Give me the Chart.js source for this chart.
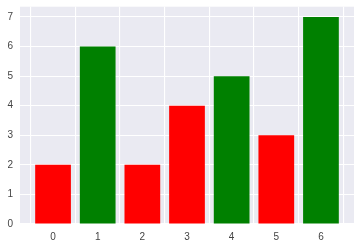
<!DOCTYPE html>
<html><head><meta charset="utf-8">
<script src="https://cdn.jsdelivr.net/npm/chart.js@4"></script>
<style>html,body{margin:0;padding:0;background:#fff}#w{width:361px;height:248px}</style>
</head><body><div id="w"><canvas id="c" width="361" height="248"></canvas></div>
<script>
const categories = [0, 1, 2, 3, 4, 5, 6];
const values = [2, 6, 2, 4, 5, 3, 7];
const barColors = ['red', 'green', 'red', 'red', 'green', 'red', 'green'];
const yTicks = [0, 1, 2, 3, 4, 5, 6, 7];

const bg = {
  id: 'bg',
  beforeDraw(chart) {
    const {ctx, chartArea: a} = chart;
    ctx.save();
    ctx.fillStyle = '#EAEAF2';
    ctx.fillRect(a.left, a.top, a.right - a.left, a.bottom - a.top);
    ctx.restore();
  }
};

new Chart(document.getElementById('c'), {
  type: 'bar',
  data: {
    datasets: [{
      data: categories.map((c, i) => ({x: c, y: values[i]})),
      backgroundColor: barColors,
      borderWidth: 0,
      barPercentage: 0.8,
      categoryPercentage: 1.0
    }]
  },
  options: {
    responsive: false,
    animation: false,
    layout: {padding: {top: 6.7, right: 7, left: 0, bottom: 0}},
    plugins: {legend: {display: false}, tooltip: {enabled: false}},
    scales: {
      x: {
        type: 'linear', min: -0.74, max: 6.74, offset: false,
        afterBuildTicks: s => { s.ticks = categories.map(v => ({value: v})); },
        afterFit: s => { s.height = 24; s.paddingLeft = 0; s.paddingRight = 0; },
        grid: {color: '#ffffff', lineWidth: 1.1, drawTicks: false},
        border: {display: false},
        ticks: {padding: 7, color: '#444', font: {family: 'Liberation Sans, Arial', size: 10}}
      },
      y: {
        min: 0, max: 7.35,
        afterBuildTicks: s => { s.ticks = yTicks.map(v => ({value: v})); },
        afterFit: s => { s.width = 20; s.paddingTop = 0; s.paddingBottom = 0; },
        grid: {color: '#ffffff', lineWidth: 1.1, drawTicks: false},
        border: {display: false},
        ticks: {padding: 7, color: '#444', font: {family: 'Liberation Sans, Arial', size: 10}}
      }
    }
  },
  plugins: [bg]
});
</script></body></html>
